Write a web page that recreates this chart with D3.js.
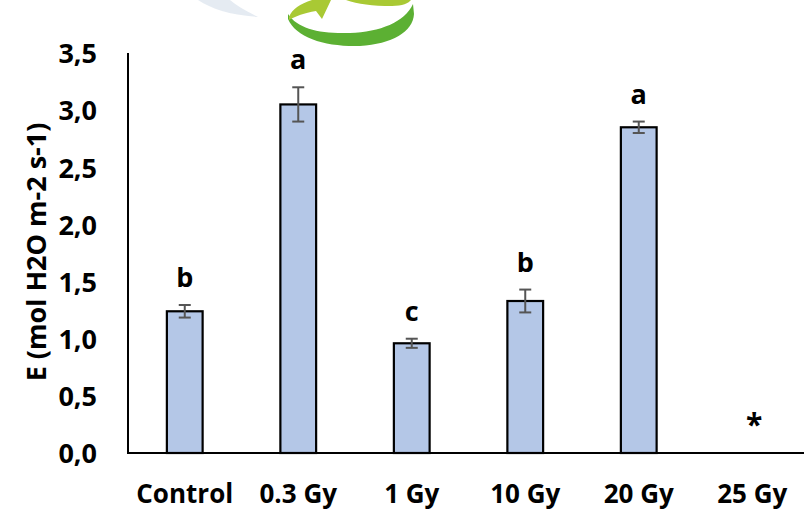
<!DOCTYPE html>
<html><head><meta charset="utf-8">
<script src="https://cdn.jsdelivr.net/npm/d3@7"></script>
<style>
body{margin:0;background:#fff;}
svg{display:block;}
text{font-family:"Open Sans",sans-serif;font-weight:700;fill:#000;}
</style></head>
<body>
<svg id="chart" width="804" height="514"></svg>
<script>
const categories = ["Control","0.3 Gy","1 Gy","10 Gy","20 Gy","25 Gy"];
const values = [1.24, 3.05, 0.96, 1.33, 2.85, 0];
const errors = [0.055, 0.15, 0.04, 0.10, 0.05, 0];
const letters = ["b","a","c","b","a","*"];
const yTicks = [0,0.5,1.0,1.5,2.0,2.5,3.0,3.5];
const yLabel = "E (mol H2O m-2 s-1)";

const svg = d3.select("#chart");

// logo fragment at top
const logo = svg.append("g");
logo.append("path")
  .attr("d","M198,0 C212,9 230,15 258,17 C246,11 236,5 230,0 Z")
  .attr("fill","#dfe6ef").attr("opacity",0.8);
logo.append("path")
  .attr("d","M288,19 C296,38 326,47 360,46 C392,44 413,32 414,14 L413,4 C405,22 380,32 350,33 C320,34 298,29 288,14 Z")
  .attr("fill","#5cb033");
logo.append("path")
  .attr("d","M289,17 C292,9 300,4 312,0 L331,0 L322,19 L316,11 C304,13 296,16 289,20 Z")
  .attr("fill","#a9c934");
logo.append("path")
  .attr("d","M346,0 L411,0 C409,3 402,6 392,6 C372,6 358,4 346,0 Z")
  .attr("fill","#a9c934");

const x = d3.scaleBand().domain(categories).range([128, 809]).paddingInner(0.685).paddingOuter(0.3425);
const y = d3.scaleLinear().domain([0,3.5]).range([453,53]);

// bars
svg.append("g").selectAll("rect").data(categories.map((c,i)=>({c,v:values[i]})).filter(d=>d.v>0))
  .join("rect")
  .attr("x",d=>x(d.c)).attr("y",d=>y(d.v))
  .attr("width",x.bandwidth()).attr("height",d=>y(0)-y(d.v))
  .attr("fill","#b4c7e7").attr("stroke","#000").attr("stroke-width",2.2);

// error bars
const eg = svg.append("g").attr("stroke","#555").attr("stroke-width",2);
categories.forEach((c,i)=>{
  if(values[i]<=0) return;
  const cx = x(c)+x.bandwidth()/2;
  const t = y(values[i]+errors[i]), b = y(values[i]-errors[i]);
  eg.append("line").attr("x1",cx).attr("x2",cx).attr("y1",t).attr("y2",b);
  eg.append("line").attr("x1",cx-6).attr("x2",cx+6).attr("y1",t).attr("y2",t);
  eg.append("line").attr("x1",cx-6).attr("x2",cx+6).attr("y1",b).attr("y2",b);
});

// axes
svg.append("line").attr("x1",128).attr("x2",128).attr("y1",y(3.5)).attr("y2",y(0)).attr("stroke","#000").attr("stroke-width",2);
svg.append("line").attr("x1",127).attr("x2",804).attr("y1",y(0)).attr("y2",y(0)).attr("stroke","#000").attr("stroke-width",2);

// y tick labels
svg.append("g").selectAll("text").data(yTicks).join("text")
  .attr("x",97).attr("y",d=>y(d)).attr("dy","0.38em")
  .attr("text-anchor","end").attr("font-size",27)
  .text(d=>d3.format(".1f")(d).replace(".",","));

// x labels
svg.append("g").selectAll("text").data(categories).join("text")
  .attr("x",d=>x(d)+x.bandwidth()/2).attr("y",503)
  .attr("text-anchor","middle").attr("font-size",26)
  .text(d=>d);

// letters
svg.append("g").selectAll("text").data(categories).join("text")
  .attr("x",(d,i)=>x(d)+x.bandwidth()/2 + (letters[i]==="*"?2:0))
  .attr("y",(d,i)=> values[i]>0 ? y(values[i]+errors[i])-18 : 435)
  .attr("text-anchor","middle").attr("font-size",(d,i)=>letters[i]==="*"?30:27)
  .text((d,i)=>letters[i]);

// y label
svg.append("text").attr("transform","translate(46,252) rotate(-90)")
  .attr("text-anchor","middle").attr("font-size",27)
  .text(yLabel);
</script>
</body></html>
